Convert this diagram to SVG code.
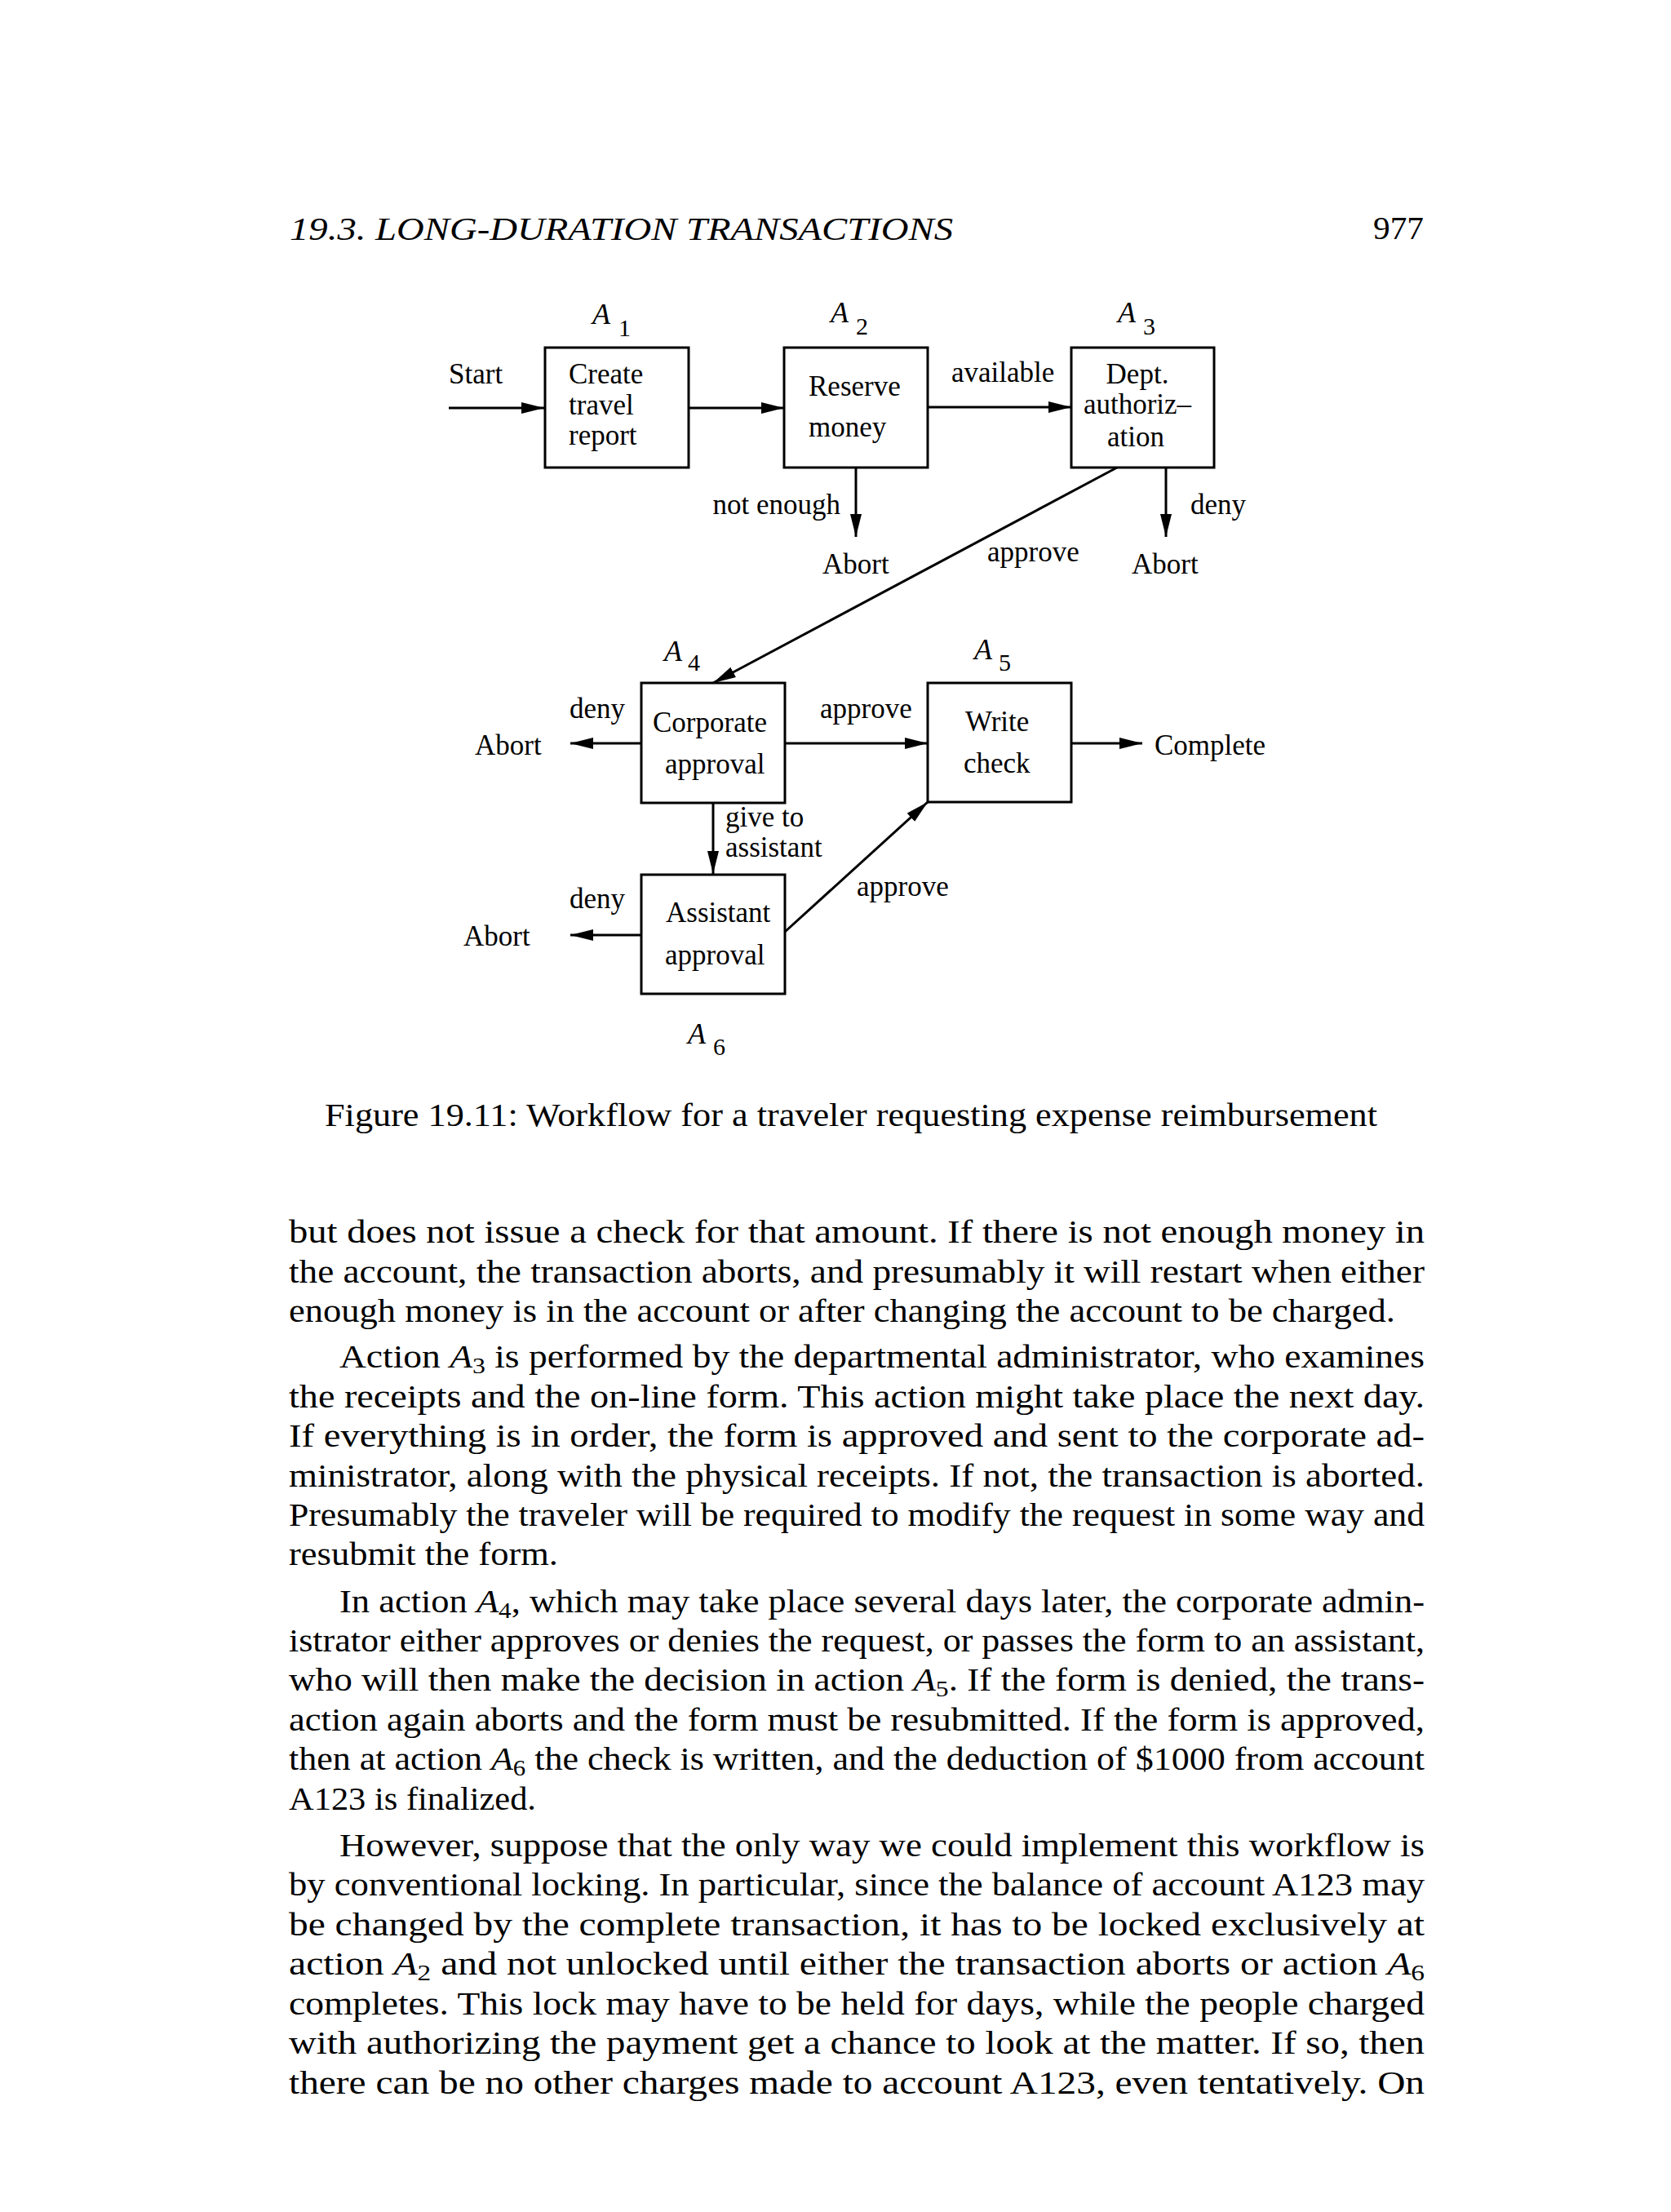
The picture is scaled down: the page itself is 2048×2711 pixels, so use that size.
<svg xmlns="http://www.w3.org/2000/svg" width="2048" height="2711" viewBox="0 0 2048 2711">
<style>
.bg{fill:#fff}
.box{fill:none;stroke:#000;stroke-width:3}
.edge{fill:none;stroke:#000;stroke-width:3}
.lbl{font-family:"Liberation Serif","Times New Roman",serif;font-size:35px;fill:#000}
.an{font-family:"Liberation Serif","Times New Roman",serif;font-size:30px;fill:#000}
.ai{font-style:italic;font-size:36px}
.body{font-family:"Liberation Serif","Times New Roman",serif;font-size:40px;fill:#000}
.it{font-style:italic}
.sub{font-size:28px}
</style>
<defs>
<marker id="ah" markerUnits="userSpaceOnUse" markerWidth="30" markerHeight="16" refX="28" refY="7" orient="auto">
<path d="M0,0 L28,7 L0,14 z" fill="#000"/>
</marker>
</defs>
<rect class="bg" x="0" y="0" width="2048" height="2711"/>

<g id="header">
<text class="body it" x="355" y="294" textLength="813" lengthAdjust="spacingAndGlyphs">19.3. LONG-DURATION TRANSACTIONS</text>
<text class="body" x="1683" y="293" textLength="62" lengthAdjust="spacingAndGlyphs">977</text>
</g>

<g id="connectors">
<line class="edge" x1="550" y1="500" x2="667" y2="500" marker-end="url(#ah)"/>
<line class="edge" x1="844" y1="500" x2="961" y2="500" marker-end="url(#ah)"/>
<line class="edge" x1="1137" y1="499" x2="1313" y2="499" marker-end="url(#ah)"/>
<line class="edge" x1="1049" y1="573" x2="1049" y2="658" marker-end="url(#ah)"/>
<line class="edge" x1="1429" y1="573" x2="1429" y2="658" marker-end="url(#ah)"/>
<line class="edge" x1="1369" y1="573" x2="874" y2="837" marker-end="url(#ah)"/>
<line class="edge" x1="786" y1="911" x2="699" y2="911" marker-end="url(#ah)"/>
<line class="edge" x1="962" y1="911" x2="1137" y2="911" marker-end="url(#ah)"/>
<line class="edge" x1="1313" y1="911" x2="1400" y2="911" marker-end="url(#ah)"/>
<line class="edge" x1="874" y1="984" x2="874" y2="1071" marker-end="url(#ah)"/>
<line class="edge" x1="786" y1="1146" x2="699" y2="1146" marker-end="url(#ah)"/>
<line class="edge" x1="962" y1="1142" x2="1137" y2="983" marker-end="url(#ah)"/>
<text class="lbl" x="550" y="470">Start</text>
<text class="lbl" x="1166" y="468">available</text>
<text class="lbl" x="1030" y="630" text-anchor="end">not enough</text>
<text class="lbl" x="1008" y="703">Abort</text>
<text class="lbl" x="1459" y="630">deny</text>
<text class="lbl" x="1387" y="703">Abort</text>
<text class="lbl" x="1210" y="688">approve</text>
<text class="lbl" x="698" y="880">deny</text>
<text class="lbl" x="582" y="925">Abort</text>
<text class="lbl" x="1005" y="880">approve</text>
<text class="lbl" x="1415" y="925">Complete</text>
<text class="lbl" x="889" y="1013">give to</text>
<text class="lbl" x="889" y="1050">assistant</text>
<text class="lbl" x="698" y="1113">deny</text>
<text class="lbl" x="568" y="1159">Abort</text>
<text class="lbl" x="1050" y="1098">approve</text>
</g>

<g id="A1">
<rect class="box" x="668" y="426" width="176" height="147"/>
<text class="an ai" x="726" y="397">A</text><text class="an" x="758" y="412">1</text>
<text class="lbl" x="697" y="470">Create</text>
<text class="lbl" x="697" y="508">travel</text>
<text class="lbl" x="697" y="545">report</text>
</g>
<g id="A2">
<rect class="box" x="961" y="426" width="176" height="147"/>
<text class="an ai" x="1018" y="395">A</text><text class="an" x="1049" y="410">2</text>
<text class="lbl" x="991" y="485">Reserve</text>
<text class="lbl" x="991" y="535">money</text>
</g>
<g id="A3">
<rect class="box" x="1313" y="426" width="175" height="147"/>
<text class="an ai" x="1370" y="395">A</text><text class="an" x="1401" y="410">3</text>
<text class="lbl" x="1394" y="470" text-anchor="middle">Dept.</text>
<text class="lbl" x="1394" y="507" text-anchor="middle">authoriz–</text>
<text class="lbl" x="1392" y="547" text-anchor="middle">ation</text>
</g>
<g id="A4">
<rect class="box" x="786" y="837" width="176" height="147"/>
<text class="an ai" x="814" y="810">A</text><text class="an" x="843" y="822">4</text>
<text class="lbl" x="800" y="897">Corporate</text>
<text class="lbl" x="815" y="948">approval</text>
</g>
<g id="A5">
<rect class="box" x="1137" y="837" width="176" height="146"/>
<text class="an ai" x="1194" y="808">A</text><text class="an" x="1224" y="822">5</text>
<text class="lbl" x="1183" y="896">Write</text>
<text class="lbl" x="1181" y="947">check</text>
</g>
<g id="A6">
<rect class="box" x="786" y="1072" width="176" height="146"/>
<text class="an ai" x="843" y="1279">A</text><text class="an" x="874" y="1293">6</text>
<text class="lbl" x="816" y="1130">Assistant</text>
<text class="lbl" x="815" y="1182">approval</text>
</g>

<g id="caption">
<text class="body" x="398" y="1380" textLength="1290" lengthAdjust="spacingAndGlyphs">Figure 19.11: Workflow for a traveler requesting expense reimbursement</text>
</g>

<g id="bodytext">
<text class="body" x="354" y="1523" textLength="1392" lengthAdjust="spacingAndGlyphs">but does not issue a check for that amount. If there is not enough money in</text>
<text class="body" x="354" y="1572" textLength="1392" lengthAdjust="spacingAndGlyphs">the account, the transaction aborts, and presumably it will restart when either</text>
<text class="body" x="354" y="1620" textLength="1356" lengthAdjust="spacingAndGlyphs">enough money is in the account or after changing the account to be charged.</text>
<text class="body" x="416" y="1676" textLength="1330" lengthAdjust="spacingAndGlyphs">Action <tspan class="it">A</tspan><tspan class="sub" dy="7">3</tspan><tspan dy="-7"> is performed by the departmental administrator, who examines</tspan></text>
<text class="body" x="354" y="1725" textLength="1392" lengthAdjust="spacingAndGlyphs">the receipts and the on-line form. This action might take place the next day.</text>
<text class="body" x="354" y="1773" textLength="1392" lengthAdjust="spacingAndGlyphs">If everything is in order, the form is approved and sent to the corporate ad-</text>
<text class="body" x="354" y="1822" textLength="1392" lengthAdjust="spacingAndGlyphs">ministrator, along with the physical receipts. If not, the transaction is aborted.</text>
<text class="body" x="354" y="1870" textLength="1392" lengthAdjust="spacingAndGlyphs">Presumably the traveler will be required to modify the request in some way and</text>
<text class="body" x="354" y="1918" textLength="330" lengthAdjust="spacingAndGlyphs">resubmit the form.</text>
<text class="body" x="416" y="1976" textLength="1330" lengthAdjust="spacingAndGlyphs">In action <tspan class="it">A</tspan><tspan class="sub" dy="7">4</tspan><tspan dy="-7">, which may take place several days later, the corporate admin-</tspan></text>
<text class="body" x="354" y="2024" textLength="1392" lengthAdjust="spacingAndGlyphs">istrator either approves or denies the request, or passes the form to an assistant,</text>
<text class="body" x="354" y="2072" textLength="1392" lengthAdjust="spacingAndGlyphs">who will then make the decision in action <tspan class="it">A</tspan><tspan class="sub" dy="7">5</tspan><tspan dy="-7">. If the form is denied, the trans-</tspan></text>
<text class="body" x="354" y="2121" textLength="1392" lengthAdjust="spacingAndGlyphs">action again aborts and the form must be resubmitted. If the form is approved,</text>
<text class="body" x="354" y="2169" textLength="1392" lengthAdjust="spacingAndGlyphs">then at action <tspan class="it">A</tspan><tspan class="sub" dy="7">6</tspan><tspan dy="-7"> the check is written, and the deduction of $1000 from account</tspan></text>
<text class="body" x="354" y="2218" textLength="303" lengthAdjust="spacingAndGlyphs">A123 is finalized.</text>
<text class="body" x="416" y="2275" textLength="1330" lengthAdjust="spacingAndGlyphs">However, suppose that the only way we could implement this workflow is</text>
<text class="body" x="354" y="2323" textLength="1392" lengthAdjust="spacingAndGlyphs">by conventional locking. In particular, since the balance of account A123 may</text>
<text class="body" x="354" y="2372" textLength="1392" lengthAdjust="spacingAndGlyphs">be changed by the complete transaction, it has to be locked exclusively at</text>
<text class="body" x="354" y="2420" textLength="1392" lengthAdjust="spacingAndGlyphs">action <tspan class="it">A</tspan><tspan class="sub" dy="7">2</tspan><tspan dy="-7"> and not unlocked until either the transaction aborts or action </tspan><tspan class="it">A</tspan><tspan class="sub" dy="7">6</tspan></text>
<text class="body" x="354" y="2469" textLength="1392" lengthAdjust="spacingAndGlyphs">completes. This lock may have to be held for days, while the people charged</text>
<text class="body" x="354" y="2517" textLength="1392" lengthAdjust="spacingAndGlyphs">with authorizing the payment get a chance to look at the matter. If so, then</text>
<text class="body" x="354" y="2566" textLength="1392" lengthAdjust="spacingAndGlyphs">there can be no other charges made to account A123, even tentatively. On</text>
</g>
</svg>
